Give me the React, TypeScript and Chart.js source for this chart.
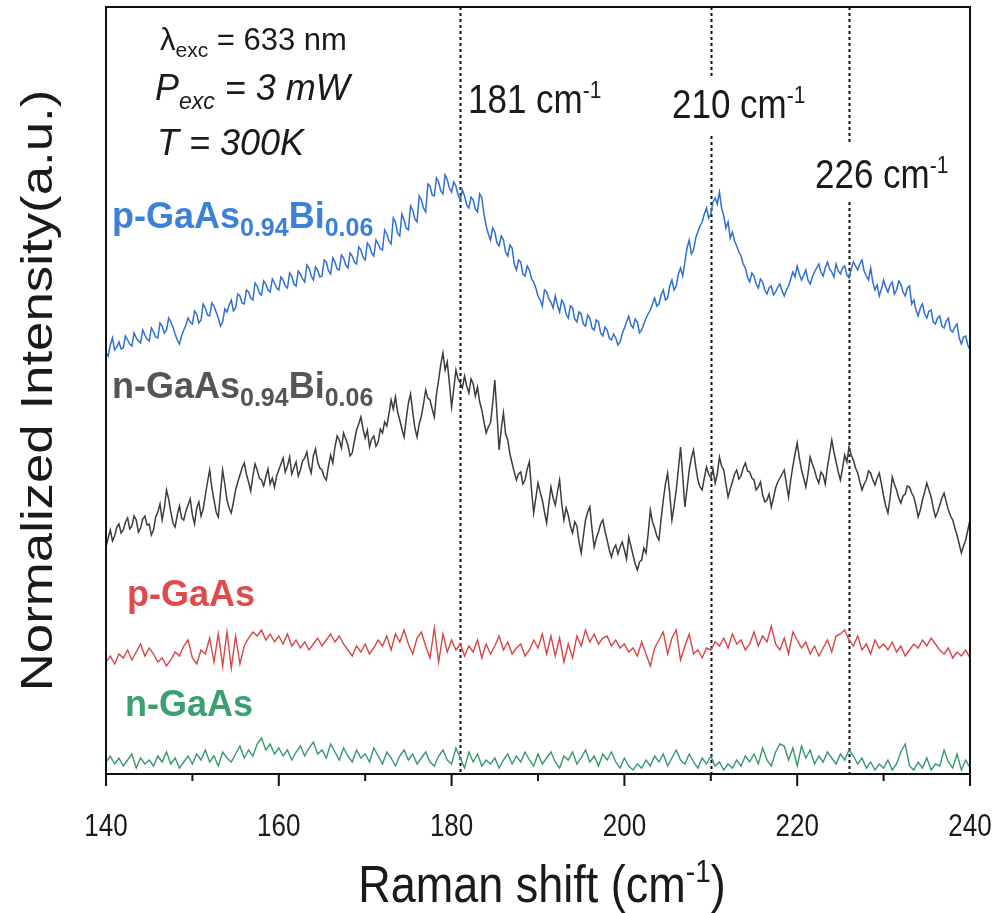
import { useEffect, useRef } from "react";
import { Chart, registerables } from "chart.js";

Chart.register(...registerables);

// Raman shift grid (cm^-1), 140 to 240
const SHIFT_START = 140;
const ALLOY_STEP = 0.25; // GaAsBi spectra sampling
const BULK_STEP = 0.5; // GaAs spectra sampling
const X_MIN = 140;
const X_MAX = 240;
const Y_MIN = 0;
const Y_MAX = 767;

const MAJOR_TICKS = [140, 160, 180, 200, 220, 240];
const MINOR_TICKS = [150, 170, 190, 210, 230];

// Phonon modes marked with dotted guides
const PEAK_SHIFTS = [181, 210, 226];
const PEAK_LABELS = ["181", "210", "226"];

// Offset, normalized intensities (a.u.)
const pGaAsBi = [
  422, 418, 429, 436, 424, 427, 432, 425, 426, 438, 434, 430, 428, 441, 436, 433, 431, 444, 439, 435,
  433, 446, 442, 437, 436, 451, 448, 441, 444, 456, 452, 447, 440, 434, 430, 438, 444, 449, 456, 452,
  450, 463, 460, 451, 454, 470, 466, 459, 458, 471, 468, 462, 456, 448, 452, 465, 462, 469, 474, 463,
  466, 480, 478, 471, 470, 484, 482, 476, 474, 491, 488, 481, 479, 493, 490, 484, 482, 495, 491, 486,
  484, 497, 494, 488, 486, 501, 498, 490, 488, 503, 500, 495, 492, 509, 506, 498, 494, 507, 504, 497,
  498, 514, 512, 503, 500, 516, 512, 505, 504, 519, 516, 509, 506, 521, 518, 512, 510, 527, 524, 517,
  514, 531, 528, 521, 518, 534, 530, 525, 524, 544, 540, 533, 530, 556, 552, 541, 538, 560, 554, 546,
  544, 568, 564, 555, 552, 578, 574, 566, 562, 590, 588, 579, 578, 596, 592, 583, 580, 599, 594, 586,
  582, 592, 588, 579, 574, 584, 578, 569, 566, 577, 574, 565, 562, 580, 576, 560, 548, 540, 534, 546,
  542, 531, 528, 538, 534, 522, 518, 529, 526, 510, 504, 514, 512, 500, 498, 508, 504, 495, 492, 486,
  478, 474, 468, 484, 482, 475, 472, 466, 478, 469, 462, 474, 470, 460, 456, 468, 466, 455, 452, 462,
  460, 450, 448, 459, 456, 446, 444, 454, 452, 441, 438, 447, 444, 436, 434, 440, 436, 429, 432, 440,
  446, 452, 458, 449, 446, 455, 452, 441, 444, 450, 456, 460, 464, 470, 476, 468, 470, 479, 484, 474,
  476, 488, 494, 484, 488, 500, 506, 498, 512, 526, 534, 520, 524, 536, 542, 548, 552, 560, 566, 556,
  560, 572, 576, 570, 582, 566, 558, 546, 552, 536, 542, 533, 528, 522, 518, 510, 506, 497, 492, 501,
  498, 490, 486, 495, 492, 484, 480, 486, 488, 479, 482, 487, 490, 483, 478, 484, 488, 495, 502, 497,
  508, 500, 494, 499, 504, 494, 490, 497, 502, 506, 510, 502, 498, 506, 512, 505, 502, 497, 510, 503,
  500, 506, 508, 499, 496, 505, 512, 508, 504, 510, 514, 503, 498, 494, 506, 492, 484, 489, 478, 485,
  494, 487, 482, 489, 492, 480, 484, 493, 490, 482, 478, 486, 488, 470, 474, 464, 458, 466, 470, 460,
  456, 463, 464, 452, 450, 456, 458, 448, 446, 453, 456, 444, 442, 447, 450, 436, 430, 437, 438, 429,
  424,
];

const nGaAsBi = [
  227, 236, 244, 233, 238, 247, 250, 241, 244, 252, 256, 245, 248, 258, 254, 242, 246, 255, 258, 249,
  250, 239, 244, 257, 262, 270, 254, 266, 284, 275, 262, 251, 247, 259, 268, 256, 254, 263, 269, 275,
  259, 250, 266, 272, 258, 265, 279, 292, 304, 286, 274, 262, 257, 281, 304, 290, 274, 266, 261, 272,
  284, 292, 299, 306, 311, 300, 292, 283, 298, 310, 304, 296, 294, 288, 297, 305, 290, 296, 287, 298,
  304, 310, 316, 302, 308, 317, 300, 306, 312, 298, 304, 313, 316, 322, 308, 301, 318, 325, 312, 306,
  304, 297, 294, 308, 319, 311, 327, 338, 334, 326, 341, 335, 329, 318, 321, 333, 344, 350, 357, 345,
  336, 344, 327, 335, 338, 328, 332, 345, 341, 352, 348, 360, 374, 365, 377, 362, 354, 345, 337, 355,
  371, 380, 362, 346, 337, 350, 358, 370, 384, 376, 374, 365, 357, 380, 394, 410, 421, 404, 412, 390,
  367, 385, 404, 395, 391, 386, 398, 388, 381, 395, 390, 378, 387, 372, 364, 352, 341, 347, 351, 370,
  394, 360, 324, 345, 361, 340, 334, 320, 311, 302, 294, 300, 302, 290, 294, 305, 312, 284, 261, 276,
  291, 282, 274, 262, 251, 270, 287, 276, 269, 282, 294, 270, 254, 266, 259, 248, 241, 252, 248, 232,
  221, 238, 254, 262, 267, 245, 227, 236, 242, 250, 254, 243, 234, 224, 217, 225, 229, 220, 227, 232,
  224, 215, 237, 228, 219, 210, 204, 212, 214, 226, 221, 240, 264, 252, 246, 238, 234, 255, 274, 290,
  301, 280, 254, 268, 284, 305, 327, 298, 267, 285, 304, 316, 324, 308, 294, 287, 284, 296, 307, 300,
  296, 305, 291, 300, 317, 308, 304, 290, 277, 285, 292, 300, 304, 295, 298, 306, 311, 303, 302, 296,
  294, 284, 287, 292, 279, 272, 274, 280, 267, 276, 286, 292, 296, 300, 304, 290, 277, 294, 308, 320,
  331, 316, 304, 296, 287, 300, 317, 310, 304, 296, 291, 302, 299, 290, 307, 320, 334, 322, 312, 302,
  294, 306, 319, 312, 327, 319, 314, 306, 301, 292, 284, 290, 294, 303, 301, 294, 289, 296, 301, 290,
  278, 268, 261, 276, 297, 290, 284, 276, 271, 278, 280, 288, 287, 281, 277, 268, 257, 264, 274, 282,
  291, 284, 277, 266, 257, 262, 269, 276, 281, 272, 264, 258, 254, 246, 239, 230, 221, 228, 234, 244,
  254,
];

const pGaAs = [
  112, 118, 110, 120, 116, 124, 114, 122, 130, 118, 126, 120, 112, 116, 108, 114, 122, 118, 128, 134,
  116, 110, 124, 120, 136, 112, 140, 108, 142, 106, 138, 110, 128, 136, 142, 138, 144, 134, 140, 132,
  138, 130, 140, 128, 134, 126, 132, 124, 130, 136, 128, 134, 140, 132, 138, 130, 124, 118, 128, 122,
  130, 120, 126, 134, 128, 138, 124, 140, 132, 144, 130, 120, 136, 142, 128, 116, 146, 112, 140, 122,
  134, 124, 130, 118, 128, 122, 134, 116, 130, 120, 128, 138, 124, 132, 120, 126, 130, 118, 124, 134,
  126, 140, 120, 138, 118, 136, 112, 130, 116, 138, 128, 144, 132, 140, 130, 136, 138, 128, 134, 126,
  130, 122, 126, 118, 132, 120, 108, 126, 134, 142, 120, 136, 144, 114, 128, 140, 120, 124, 116, 126,
  124, 132, 128, 136, 126, 140, 130, 134, 124, 130, 142, 128, 138, 132, 148, 130, 124, 136, 120, 142,
  134, 126, 132, 120, 128, 118, 126, 134, 122, 138, 140, 144, 134, 128, 138, 124, 130, 120, 134, 126,
  130, 124, 132, 122, 128, 118, 124, 130, 126, 134, 128, 136, 130, 124, 120, 126, 116, 122, 118, 124,
  116,
];

const nGaAs = [
  12, 18, 10, 16, 8, 14, 20, 6, 16, 10, 14, 8, 18, 12, 22, 10, 16, 6, 12, 18,
  10, 20, 14, 24, 12, 18, 8, 22, 16, 12, 20, 28, 16, 24, 18, 30, 36, 24, 30, 20,
  26, 18, 24, 14, 22, 28, 18, 26, 32, 20, 24, 16, 30, 22, 14, 26, 18, 12, 24, 16,
  20, 12, 26, 18, 10, 22, 16, 8, 18, 24, 14, 20, 10, 16, 22, 12, 8, 18, 24, 14,
  10, 26, 16, 6, 22, 12, 20, 8, 14, 10, 16, 6, 14, 20, 10, 18, 12, 22, 14, 8,
  20, 10, 16, 22, 12, 6, 18, 14, 22, 10, 16, 24, 12, 18, 8, 20, 14, 22, 12, 6,
  16, 8, 4, 10, 6, 14, 8, 18, 12, 20, 8, 16, 24, 14, 10, 20, 12, 6, 16, 10,
  18, 8, 12, 4, 10, 6, 14, 8, 18, 12, 20, 10, 26, 14, 8, 22, 30, 28, 14, 26,
  8, 28, 16, 24, 10, 18, 12, 22, 16, 10, 20, 14, 24, 18, 10, 16, 6, 12, 4, 10,
  6, 14, 4, 10, 22, 30, 8, 4, 12, 6, 16, 4, 10, 8, 24, 12, 6, 20, 4, 14,
  6,
];

const FONT = "'Liberation Sans', Arial, Helvetica, sans-serif";
const INK = "#1a1a1a";

type Seg = { t: string; size: number; dy?: number; style?: string; weight?: string };

function toPoints(vals: number[], step: number) {
  return vals.map((v, i) => ({ x: SHIFT_START + i * step, y: v }));
}

function richWidth(ctx: CanvasRenderingContext2D, segs: Seg[]) {
  let w = 0;
  for (const s of segs) {
    ctx.font = `${s.style || "normal"} ${s.weight || "normal"} ${s.size}px ${FONT}`;
    w += ctx.measureText(s.t).width;
  }
  return w;
}

// Draws a run of text pieces (with sub/superscripts) starting at x, baseline y.
function drawRich(
  ctx: CanvasRenderingContext2D,
  x: number,
  y: number,
  segs: Seg[],
  color: string,
  sy = 1,
  align: "left" | "center" = "left"
) {
  ctx.save();
  ctx.fillStyle = color;
  ctx.textBaseline = "alphabetic";
  ctx.textAlign = "left";
  const w = richWidth(ctx, segs);
  ctx.translate(align === "center" ? x - w / 2 : x, y);
  ctx.scale(1, sy);
  let cx = 0;
  for (const s of segs) {
    ctx.font = `${s.style || "normal"} ${s.weight || "normal"} ${s.size}px ${FONT}`;
    ctx.fillText(s.t, cx, (s.dy || 0) / sy);
    cx += ctx.measureText(s.t).width;
  }
  ctx.restore();
}

const decorPlugin = {
  id: "ramanDecor",
  beforeDatasetsDraw(chart: any) {
    const { ctx, chartArea, scales } = chart;
    const xs = scales.x;
    // dotted guides, interrupted where their labels sit
    const spans: Record<number, [number, number][]> = {
      181: [[chartArea.top, chartArea.bottom]],
      210: [[chartArea.top, 78], [136, chartArea.bottom]],
      226: [[chartArea.top, 142], [202, chartArea.bottom]],
    };
    ctx.save();
    ctx.strokeStyle = "#111";
    ctx.lineWidth = 2;
    ctx.setLineDash([3, 3]);
    for (const p of PEAK_SHIFTS) {
      const px = Math.round(xs.getPixelForValue(p)) + 0.5;
      for (const [a, b] of spans[p]) {
        ctx.beginPath();
        ctx.moveTo(px, a);
        ctx.lineTo(px, b);
        ctx.stroke();
      }
    }
    ctx.restore();
  },
  afterDraw(chart: any) {
    const { ctx, chartArea, scales } = chart;
    const xs = scales.x;
    const { left, right, top, bottom } = chartArea;

    // frame
    ctx.save();
    ctx.strokeStyle = "#111";
    ctx.lineWidth = 2;
    ctx.strokeRect(left, top, right - left, bottom - top);

    // x ticks (outward)
    ctx.beginPath();
    for (const t of MAJOR_TICKS) {
      const px = xs.getPixelForValue(t);
      ctx.moveTo(px, bottom);
      ctx.lineTo(px, bottom + 12);
    }
    for (const t of MINOR_TICKS) {
      const px = xs.getPixelForValue(t);
      ctx.moveTo(px, bottom);
      ctx.lineTo(px, bottom + 7);
    }
    ctx.stroke();
    ctx.restore();

    // tick labels
    for (const t of MAJOR_TICKS) {
      drawRich(ctx, xs.getPixelForValue(t), 836, [{ t: String(t), size: 26 }], INK, 1.2, "center");
    }

    // axis titles
    drawRich(
      ctx,
      (left + right) / 2 + 4,
      902,
      [
        { t: "Raman shift (cm", size: 45 },
        { t: "-1", size: 28, dy: -20 },
        { t: ")", size: 45 },
      ],
      INK,
      1.15,
      "center"
    );
    ctx.save();
    ctx.translate(52, (top + bottom) / 2);
    ctx.rotate(-Math.PI / 2);
    ctx.scale(1.2, 1);
    ctx.font = `normal normal 44px ${FONT}`;
    ctx.fillStyle = INK;
    ctx.textAlign = "center";
    ctx.textBaseline = "alphabetic";
    ctx.fillText("Normalized Intensity(a.u.)", 0, 0);
    ctx.restore();

    // measurement conditions
    drawRich(
      ctx,
      160,
      50,
      [
        { t: "λ", size: 31 },
        { t: "exc", size: 21, dy: 7 },
        { t: " = 633 nm", size: 31 },
      ],
      INK,
      1.0
    );
    drawRich(
      ctx,
      155,
      100,
      [
        { t: "P", size: 36, style: "italic" },
        { t: "exc", size: 23, dy: 9, style: "italic" },
        { t: " = 3 mW", size: 36, style: "italic" },
      ],
      INK,
      1.05
    );
    drawRich(ctx, 157, 155, [{ t: "T = 300K", size: 36, style: "italic" }], INK, 1.05);

    // peak labels
    const peakPos: [number, number][] = [
      [468, 113],
      [672, 118],
      [815, 188],
    ];
    PEAK_LABELS.forEach((lab, i) => {
      drawRich(
        ctx,
        peakPos[i][0],
        peakPos[i][1],
        [
          { t: lab + " cm", size: 35 },
          { t: "-1", size: 21, dy: -15 },
        ],
        INK,
        1.15
      );
    });

    // sample labels
    const alloy = (prefix: string): Seg[] => [
      { t: prefix + "-GaAs", size: 36, weight: "bold" },
      { t: "0.94", size: 25, dy: 8, weight: "bold" },
      { t: "Bi", size: 36, weight: "bold" },
      { t: "0.06", size: 25, dy: 8, weight: "bold" },
    ];
    drawRich(ctx, 112, 228, alloy("p"), "#3d80d8", 1.05);
    drawRich(ctx, 112, 398, alloy("n"), "#555555", 1.05);
    drawRich(ctx, 127, 606, [{ t: "p-GaAs", size: 36, weight: "bold" }], "#e04a4a", 1.05);
    drawRich(ctx, 125, 716, [{ t: "n-GaAs", size: 36, weight: "bold" }], "#3aa070", 1.05);
  },
};

export default function App() {
  const canvasRef = useRef<HTMLCanvasElement | null>(null);

  useEffect(() => {
    const canvas = canvasRef.current;
    if (!canvas) return;
    const series = [
      { data: pGaAsBi, step: ALLOY_STEP, color: "#2f6fd1", width: 1.5 },
      { data: nGaAsBi, step: ALLOY_STEP, color: "#3c3c3c", width: 1.5 },
      { data: pGaAs, step: BULK_STEP, color: "#d94545", width: 1.4 },
      { data: nGaAs, step: BULK_STEP, color: "#35996a", width: 1.4 },
    ];
    const chart = new Chart(canvas, {
      type: "line",
      data: {
        datasets: series.map((s) => ({
          data: toPoints(s.data, s.step),
          borderColor: s.color,
          borderWidth: s.width,
          pointRadius: 0,
          tension: 0,
          fill: false,
        })),
      },
      options: {
        responsive: false,
        animation: false,
        devicePixelRatio: 1,
        layout: { padding: { left: 106, right: 27, top: 7, bottom: 139 } },
        plugins: { legend: { display: false }, tooltip: { enabled: false } },
        scales: {
          x: { type: "linear", min: X_MIN, max: X_MAX, display: false },
          y: { type: "linear", min: Y_MIN, max: Y_MAX, display: false },
        },
      },
      plugins: [decorPlugin],
    });
    return () => chart.destroy();
  }, []);

  return (
    <div style={{ position: "absolute", left: 0, top: 0, width: 997, height: 913, background: "#fff" }}>
      <canvas ref={canvasRef} width={997} height={913} style={{ display: "block" }} />
    </div>
  );
}
